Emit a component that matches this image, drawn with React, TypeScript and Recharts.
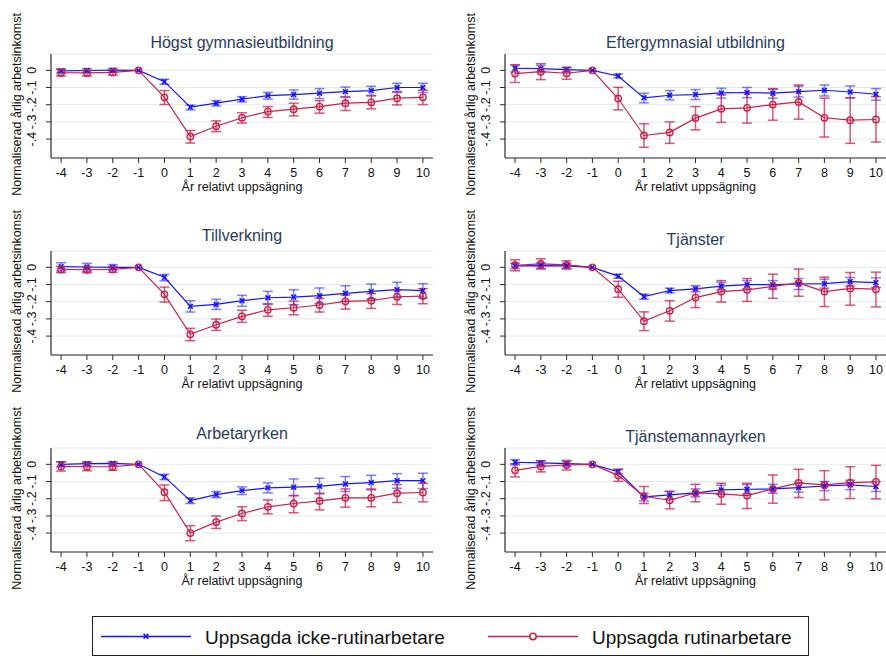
import React from 'react';
import { ComposedChart, Line, XAxis, YAxis, CartesianGrid, ErrorBar } from 'recharts';

// Years relative to the layoff
const years = [-4, -3, -2, -1, 0, 1, 2, 3, 4, 5, 6, 7, 8, 9, 10];
const yTicks = [-0.4, -0.3, -0.2, -0.1, 0];

// Högst gymnasieutbildning
const gymIcke = [-0.003, -0.001, 0.001, 0, -0.066, -0.214, -0.191, -0.168, -0.147, -0.141, -0.133, -0.124, -0.118, -0.1, -0.1];
const gymIckeLo = [-0.015, -0.012, -0.01, 0, -0.081, -0.23, -0.207, -0.184, -0.168, -0.168, -0.164, -0.153, -0.145, -0.128, -0.129];
const gymIckeHi = [0.008, 0.01, 0.012, 0, -0.052, -0.203, -0.176, -0.153, -0.128, -0.114, -0.106, -0.097, -0.093, -0.075, -0.075];
const gymRutin = [-0.014, -0.015, -0.012, 0, -0.157, -0.385, -0.325, -0.276, -0.24, -0.226, -0.211, -0.191, -0.186, -0.162, -0.157];
const gymRutinLo = [-0.033, -0.033, -0.029, 0, -0.199, -0.423, -0.357, -0.307, -0.274, -0.265, -0.249, -0.234, -0.224, -0.201, -0.199];
const gymRutinHi = [0.006, 0.0, 0.002, 0, -0.118, -0.35, -0.294, -0.247, -0.211, -0.191, -0.176, -0.157, -0.149, -0.124, -0.116];

// Eftergymnasial utbildning
const eftIcke = [0.012, 0.01, 0.004, 0, -0.033, -0.16, -0.145, -0.141, -0.131, -0.129, -0.133, -0.124, -0.116, -0.126, -0.139];
const eftIckeLo = [-0.01, -0.01, -0.01, 0, -0.044, -0.189, -0.172, -0.17, -0.162, -0.159, -0.162, -0.155, -0.149, -0.16, -0.174];
const eftIckeHi = [0.033, 0.029, 0.017, 0, -0.021, -0.133, -0.118, -0.112, -0.104, -0.1, -0.106, -0.093, -0.085, -0.091, -0.106];
const eftRutin = [-0.019, -0.008, -0.017, 0, -0.164, -0.379, -0.361, -0.278, -0.224, -0.218, -0.199, -0.184, -0.276, -0.29, -0.286];
const eftRutinLo = [-0.071, -0.054, -0.052, 0, -0.23, -0.448, -0.425, -0.346, -0.303, -0.307, -0.29, -0.284, -0.388, -0.425, -0.417];
const eftRutinHi = [0.031, 0.039, 0.017, 0, -0.099, -0.311, -0.3, -0.211, -0.143, -0.129, -0.11, -0.085, -0.162, -0.16, -0.153];

// Tillverkning
const tilIcke = [0.004, 0.002, 0, 0, -0.058, -0.227, -0.216, -0.194, -0.177, -0.173, -0.165, -0.151, -0.14, -0.13, -0.136];
const tilIckeLo = [-0.021, -0.023, -0.016, 0, -0.078, -0.26, -0.245, -0.227, -0.216, -0.217, -0.212, -0.198, -0.184, -0.175, -0.179];
const tilIckeHi = [0.027, 0.023, 0.016, 0, -0.041, -0.194, -0.186, -0.163, -0.14, -0.13, -0.12, -0.107, -0.097, -0.087, -0.095];
const tilRutin = [-0.012, -0.014, -0.012, 0, -0.157, -0.39, -0.334, -0.285, -0.247, -0.235, -0.219, -0.198, -0.194, -0.171, -0.167];
const tilRutinLo = [-0.031, -0.031, -0.029, 0, -0.202, -0.427, -0.367, -0.32, -0.285, -0.276, -0.26, -0.243, -0.239, -0.216, -0.212];
const tilRutinHi = [0.006, 0.004, 0.004, 0, -0.115, -0.355, -0.301, -0.25, -0.212, -0.196, -0.181, -0.161, -0.153, -0.13, -0.124];

// Tjänster
const tjaIcke = [0.008, 0.01, 0.008, 0, -0.051, -0.17, -0.135, -0.125, -0.109, -0.101, -0.101, -0.097, -0.095, -0.083, -0.089];
const tjaIckeLo = [-0.008, -0.006, -0.006, 0, -0.063, -0.186, -0.149, -0.143, -0.131, -0.125, -0.127, -0.129, -0.121, -0.109, -0.117];
const tjaIckeHi = [0.024, 0.026, 0.022, 0, -0.04, -0.156, -0.121, -0.107, -0.087, -0.077, -0.077, -0.065, -0.069, -0.059, -0.061];
const tjaRutin = [0.012, 0.02, 0.014, 0, -0.127, -0.313, -0.253, -0.176, -0.141, -0.131, -0.111, -0.091, -0.141, -0.123, -0.127];
const tjaRutinLo = [-0.02, -0.01, -0.01, 0, -0.174, -0.368, -0.313, -0.234, -0.202, -0.198, -0.18, -0.168, -0.228, -0.22, -0.23];
const tjaRutinHi = [0.044, 0.05, 0.038, 0, -0.081, -0.259, -0.194, -0.125, -0.077, -0.065, -0.04, -0.01, -0.057, -0.03, -0.028];

// Arbetaryrken
const arbIcke = [0, 0.004, 0.006, 0, -0.073, -0.211, -0.176, -0.153, -0.137, -0.133, -0.128, -0.114, -0.106, -0.095, -0.095];
const arbIckeLo = [-0.015, -0.01, -0.006, 0, -0.089, -0.228, -0.193, -0.176, -0.166, -0.182, -0.172, -0.158, -0.149, -0.139, -0.141];
const arbIckeHi = [0.015, 0.015, 0.015, 0, -0.058, -0.195, -0.158, -0.131, -0.108, -0.085, -0.081, -0.071, -0.064, -0.054, -0.052];
const arbRutin = [-0.012, -0.014, -0.014, 0, -0.162, -0.4, -0.336, -0.286, -0.247, -0.228, -0.213, -0.195, -0.195, -0.168, -0.164];
const arbRutinLo = [-0.039, -0.037, -0.035, 0, -0.211, -0.444, -0.373, -0.327, -0.288, -0.282, -0.265, -0.249, -0.247, -0.222, -0.218];
const arbRutinHi = [0.015, 0.01, 0.008, 0, -0.12, -0.357, -0.3, -0.247, -0.207, -0.182, -0.168, -0.143, -0.143, -0.118, -0.11];

// Tjänstemannayrken
const tjmIcke = [0.012, 0.008, 0.004, 0, -0.043, -0.189, -0.178, -0.166, -0.149, -0.145, -0.143, -0.135, -0.126, -0.12, -0.129];
const tjmIckeLo = [-0.004, -0.006, -0.01, 0, -0.056, -0.213, -0.201, -0.189, -0.176, -0.172, -0.168, -0.162, -0.153, -0.147, -0.158];
const tjmIckeHi = [0.027, 0.021, 0.017, 0, -0.029, -0.168, -0.157, -0.143, -0.122, -0.118, -0.116, -0.108, -0.1, -0.093, -0.1];
const tjmRutin = [-0.035, -0.012, -0.004, 0, -0.064, -0.186, -0.209, -0.166, -0.172, -0.182, -0.143, -0.108, -0.12, -0.106, -0.102];
const tjmRutinLo = [-0.073, -0.044, -0.033, 0, -0.099, -0.228, -0.259, -0.218, -0.232, -0.257, -0.226, -0.193, -0.207, -0.199, -0.201];
const tjmRutinHi = [0.004, 0.021, 0.023, 0, -0.029, -0.129, -0.158, -0.116, -0.11, -0.11, -0.062, -0.029, -0.037, -0.014, -0.006];

const panels = [
  { title: 'Högst gymnasieutbildning', icke: gymIcke, ickeLo: gymIckeLo, ickeHi: gymIckeHi, rutin: gymRutin, rutinLo: gymRutinLo, rutinHi: gymRutinHi },
  { title: 'Eftergymnasial utbildning', icke: eftIcke, ickeLo: eftIckeLo, ickeHi: eftIckeHi, rutin: eftRutin, rutinLo: eftRutinLo, rutinHi: eftRutinHi },
  { title: 'Tillverkning', icke: tilIcke, ickeLo: tilIckeLo, ickeHi: tilIckeHi, rutin: tilRutin, rutinLo: tilRutinLo, rutinHi: tilRutinHi },
  { title: 'Tjänster', icke: tjaIcke, ickeLo: tjaIckeLo, ickeHi: tjaIckeHi, rutin: tjaRutin, rutinLo: tjaRutinLo, rutinHi: tjaRutinHi },
  { title: 'Arbetaryrken', icke: arbIcke, ickeLo: arbIckeLo, ickeHi: arbIckeHi, rutin: arbRutin, rutinLo: arbRutinLo, rutinHi: arbRutinHi },
  { title: 'Tjänstemannayrken', icke: tjmIcke, ickeLo: tjmIckeLo, ickeHi: tjmIckeHi, rutin: tjmRutin, rutinLo: tjmRutinLo, rutinHi: tjmRutinHi },
];

const FONT = '"Liberation Sans", Arial, Helvetica, sans-serif';
const BLUE = '#1414ff';
const RED = '#cc1f45';
const TITLE_COLOR = '#2a3a5c';
const GRID = '#e2eaee';
const AXIS = '#2b2b2b';

const AXIS_W = 51;
const PLOT_H = 104;
const MARGIN_TOP = 54;
const XAXIS_H = 40;
const CHART_H = MARGIN_TOP + PLOT_H + XAXIS_H;
const ROW_TOPS = [0, 197, 394];
const COLS = [
  { left: 0, width: 442, right: 9 },
  { left: 454, width: 432, right: 0 },
];
const TITLE_BASELINES = [48.3, 48.3, 241, 245, 439.3, 442.3];

const fmtY = (v: number) => (v === 0 ? '0' : '-.' + Math.round(Math.abs(v) * 10));

const YTick = (props: any) => {
  const { y, payload } = props;
  const cx = AXIS_W - 18.5;
  return (
    <text
      x={cx}
      y={y}
      transform={`rotate(-90 ${cx} ${y})`}
      textAnchor="middle"
      dominantBaseline="central"
      fontSize={12.5}
      fontFamily={FONT}
      fill="#111"
    >
      {fmtY(payload.value)}
    </text>
  );
};

const CrossDot = (props: any) => {
  const { cx, cy, index } = props;
  if (cx == null || cy == null) return <g key={`x-${index}`} />;
  const s = 2.4;
  return (
    <g key={`x-${index}`}>
      <line x1={cx - s} y1={cy - s} x2={cx + s} y2={cy + s} stroke={BLUE} strokeWidth={1.6} />
      <line x1={cx - s} y1={cy + s} x2={cx + s} y2={cy - s} stroke={BLUE} strokeWidth={1.6} />
    </g>
  );
};

const CircleDot = (props: any) => {
  const { cx, cy, index } = props;
  if (cx == null || cy == null) return <g key={`o-${index}`} />;
  return <circle key={`o-${index}`} cx={cx} cy={cy} r={3.2} fill="none" stroke={RED} strokeWidth={1.4} />;
};

function Panel({ idx }: { idx: number }) {
  const p = panels[idx];
  const col = COLS[idx % 2];
  const top = ROW_TOPS[Math.floor(idx / 2)];
  const plotW = col.width - AXIS_W - col.right;
  const err = (v: number, lo: number, hi: number) => (lo === hi ? null : [v - lo, hi - v]);
  const data = years.map((yr, i) => ({
    year: yr,
    icke: p.icke[i],
    ickeErr: err(p.icke[i], p.ickeLo[i], p.ickeHi[i]),
    rutin: p.rutin[i],
    rutinErr: err(p.rutin[i], p.rutinLo[i], p.rutinHi[i]),
  }));

  const yLabel = () => {
    const cx = AXIS_W - 34.3;
    const cy = MARGIN_TOP + PLOT_H / 2 - 1.5;
    return (
      <text
        x={cx}
        y={cy}
        transform={`rotate(-90 ${cx} ${cy})`}
        textAnchor="middle"
        dominantBaseline="central"
        fontSize={12.5}
        fontFamily={FONT}
        fill="#111"
      >
        Normaliserad årlig arbetsinkomst
      </text>
    );
  };

  const xLabel = () => (
    <text
      x={AXIS_W + plotW / 2}
      y={MARGIN_TOP + PLOT_H + 33}
      textAnchor="middle"
      fontSize={12.5}
      fontFamily={FONT}
      fill="#111"
    >
      År relativt uppsägning
    </text>
  );

  return (
    <div style={{ position: 'absolute', left: col.left, top, width: col.width, height: CHART_H }}>
      <div
        style={{
          position: 'absolute',
          left: AXIS_W,
          width: plotW,
          top: TITLE_BASELINES[idx] - top - 13.5,
          textAlign: 'center',
          fontFamily: FONT,
          fontSize: 16,
          lineHeight: '16px',
          color: TITLE_COLOR,
          whiteSpace: 'nowrap',
        }}
      >
        {p.title}
      </div>
      <ComposedChart
        width={col.width}
        height={CHART_H}
        data={data}
        margin={{ top: MARGIN_TOP, right: col.right, bottom: 0, left: 0 }}
        style={{ overflow: 'visible' }}
      >
        <CartesianGrid vertical={false} stroke={GRID} strokeWidth={1} />
        <XAxis
          dataKey="year"
          type="number"
          domain={[-4.39, 10.39]}
          ticks={years}
          interval={0}
          allowDataOverflow
          height={XAXIS_H}
          tickSize={5}
          tickMargin={5}
          axisLine={{ stroke: AXIS, strokeWidth: 1.2 }}
          tickLine={{ stroke: AXIS, strokeWidth: 1 }}
          tick={{ fontSize: 12.5, fill: '#111', fontFamily: FONT }}
          label={xLabel}
        />
        <YAxis
          type="number"
          domain={[-0.51, 0.095]}
          ticks={yTicks}
          interval={0}
          allowDataOverflow
          width={AXIS_W}
          tickSize={5}
          axisLine={{ stroke: AXIS, strokeWidth: 1.2 }}
          tickLine={{ stroke: AXIS, strokeWidth: 1 }}
          tick={YTick}
          label={yLabel}
        />
        <Line
          dataKey="icke"
          stroke={BLUE}
          strokeWidth={1.2}
          dot={CrossDot}
          activeDot={false}
          isAnimationActive={false}
        >
          <ErrorBar dataKey="ickeErr" direction="y" width={5} stroke={BLUE} strokeOpacity={0.55} strokeWidth={1.5} />
        </Line>
        <Line
          dataKey="rutin"
          stroke={RED}
          strokeWidth={1.2}
          dot={CircleDot}
          activeDot={false}
          isAnimationActive={false}
        >
          <ErrorBar dataKey="rutinErr" direction="y" width={5} stroke={RED} strokeOpacity={0.75} strokeWidth={1.5} />
        </Line>
      </ComposedChart>
    </div>
  );
}

function LegendBox() {
  return (
    <div
      style={{
        position: 'absolute',
        left: 92,
        top: 616,
        width: 717,
        height: 40,
        boxSizing: 'border-box',
        border: '1px solid #222',
        background: '#fff',
      }}
    >
      <svg width={715} height={38} style={{ display: 'block' }}>
        <line x1={8} y1={19.5} x2={98} y2={19.5} stroke={BLUE} strokeWidth={1.3} />
        <line x1={50.6} y1={16.9} x2={55.4} y2={21.7} stroke={BLUE} strokeWidth={1.6} />
        <line x1={50.6} y1={21.7} x2={55.4} y2={16.9} stroke={BLUE} strokeWidth={1.6} />
        <text x={112} y={20} dominantBaseline="central" fontSize={19} fontFamily={FONT} fill="#111">
          Uppsagda icke-rutinarbetare
        </text>
        <line x1={395} y1={19.5} x2={485} y2={19.5} stroke={RED} strokeWidth={1.3} />
        <circle cx={440} cy={19.5} r={3.2} fill="#fff" stroke={RED} strokeWidth={1.5} />
        <text x={499} y={20} dominantBaseline="central" fontSize={19} fontFamily={FONT} fill="#111">
          Uppsagda rutinarbetare
        </text>
      </svg>
    </div>
  );
}

export default function App() {
  return (
    <div
      style={{
        position: 'absolute',
        left: 0,
        top: 0,
        width: 886,
        height: 656,
        overflow: 'hidden',
        background: '#fff',
      }}
    >
      {panels.map((_, i) => (
        <Panel key={i} idx={i} />
      ))}
      <LegendBox />
    </div>
  );
}
